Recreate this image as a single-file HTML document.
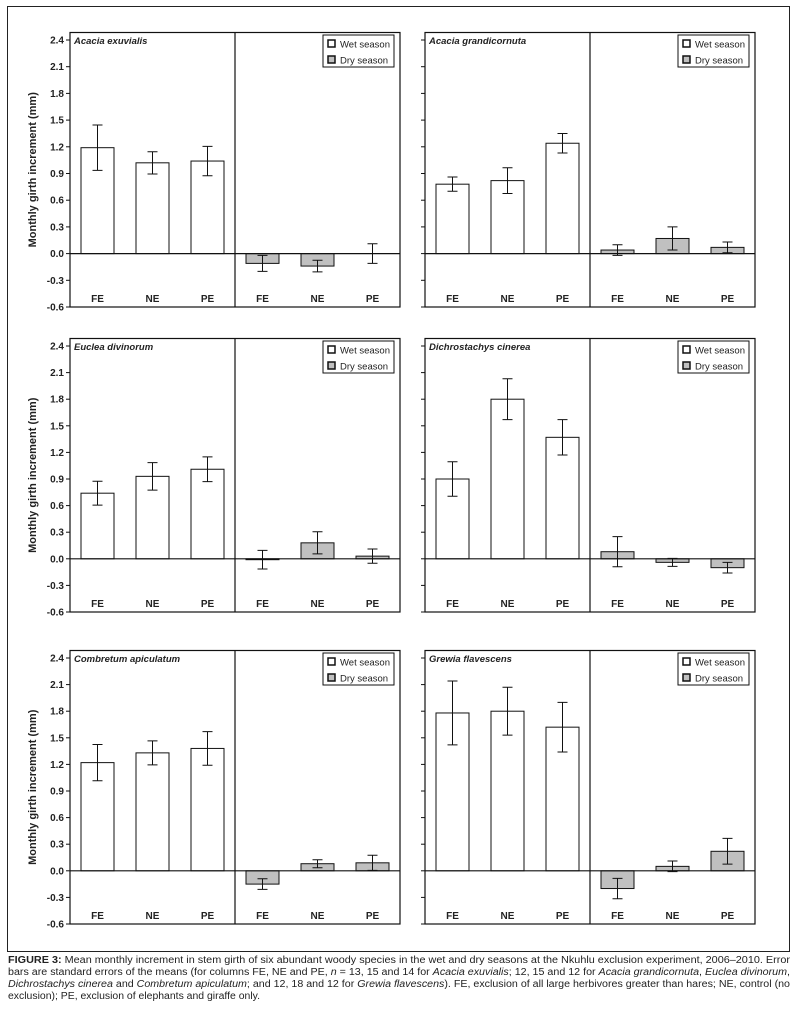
<!DOCTYPE html>
<html><head><meta charset="utf-8">
<style>
html,body{margin:0;padding:0;background:#fff;}
svg{display:block;font-family:"Liberation Sans",sans-serif;}
</style></head>
<body>
<svg id="fig" width="797" height="1010" viewBox="0 0 797 1010" xmlns="http://www.w3.org/2000/svg">
<rect x="7.5" y="6.5" width="782" height="945" fill="none" stroke="#222" stroke-width="1"/>
<g id="panels"></g>
<g font-size="10" fill="#222">
<text x="8" y="963" textLength="782" lengthAdjust="spacingAndGlyphs"><tspan font-weight="bold">FIGURE 3:</tspan> Mean monthly increment in stem girth of six abundant woody species in the wet and dry seasons at the Nkuhlu exclusion experiment, 2006–2010. Error</text>
<text x="8" y="975" textLength="782" lengthAdjust="spacingAndGlyphs">bars are standard errors of the means (for columns FE, NE and PE, <tspan font-style="italic">n</tspan> = 13, 15 and 14 for <tspan font-style="italic">Acacia exuvialis</tspan>; 12, 15 and 12 for <tspan font-style="italic">Acacia grandicornuta</tspan>, <tspan font-style="italic">Euclea divinorum</tspan>,</text>
<text x="8" y="987" textLength="782" lengthAdjust="spacingAndGlyphs"><tspan font-style="italic">Dichrostachys cinerea</tspan> and <tspan font-style="italic">Combretum apiculatum</tspan>; and 12, 18 and 12 for <tspan font-style="italic">Grewia flavescens</tspan>). FE, exclusion of all large herbivores greater than hares; NE, control (no</text>
<text x="8" y="999" textLength="252" lengthAdjust="spacingAndGlyphs">exclusion); PE, exclusion of elephants and giraffe only.</text>
</g>
</svg>
<script>
const species = ["Acacia exuvialis","Acacia grandicornuta","Euclea divinorum","Dichrostachys cinerea","Combretum apiculatum","Grewia flavescens"];
const categories = ["FE","NE","PE"];
const wetMeans = [[1.19,1.02,1.04],[0.78,0.82,1.24],[0.74,0.93,1.01],[0.90,1.80,1.37],[1.22,1.33,1.38],[1.78,1.80,1.62]];
const wetSE = [[0.255,0.125,0.165],[0.08,0.145,0.11],[0.135,0.155,0.14],[0.195,0.23,0.20],[0.205,0.135,0.19],[0.36,0.27,0.28]];
const dryMeans = [[-0.11,-0.14,0.0],[0.04,0.17,0.07],[-0.01,0.18,0.03],[0.08,-0.04,-0.10],[-0.15,0.08,0.09],[-0.20,0.05,0.22]];
const drySE = [[0.09,0.065,0.11],[0.06,0.13,0.06],[0.105,0.125,0.08],[0.17,0.045,0.06],[0.06,0.045,0.085],[0.115,0.06,0.145]];
const yTicks = [-0.6,-0.3,0.0,0.3,0.6,0.9,1.2,1.5,1.8,2.1,2.4];
const yMin=-0.6, yMax=2.4;

const NS="http://www.w3.org/2000/svg";
const root=document.getElementById('panels');
function mk(tag,attrs,parent){const e=document.createElementNS(NS,tag);for(const k in attrs)e.setAttribute(k,attrs[k]);(parent||root).appendChild(e);return e;}

const colX=[[70,400],[425,755]];
const rowY=[[40,307],[346,612],[658,924]];

species.forEach((sp,i)=>{
  const c=i%2, r=Math.floor(i/2);
  const x0=colX[c][0], x1=colX[c][1], xm=(x0+x1)/2;
  const yb=rowY[r][1], yt=rowY[r][0];
  const y=v=>yb-(v-yMin)/(yMax-yMin)*(yb-yt);
  const g=mk('g',{});
  
  
  const boxTop=yt-7.5;
  const band=(xm-x0)/3, bw=band*0.6;
  [[wetMeans,wetSE,'#fff',x0,'wet'],[dryMeans,drySE,'#c0c0c0',xm,'dry']].forEach(([M,S,fill,start,season])=>{
    categories.forEach((cat,j)=>{
      const m=M[i][j], s=S[i][j];
      const cx=start+band*(j+0.5);
      const bar=mk('rect',{x:cx-bw/2,y:Math.min(y(m),y(0)),width:bw,height:Math.abs(y(m)-y(0)),fill:fill,stroke:'#111','stroke-width':1},g);
      
      
      const eb=mk('path',{d:`M${cx},${y(m+s)}V${y(m-s)}M${cx-5},${y(m+s)}H${cx+5}M${cx-5},${y(m-s)}H${cx+5}`,stroke:'#111','stroke-width':1,fill:'none'},g);
      
      
      const t=mk('text',{x:cx,y:yb-5,'text-anchor':'middle','font-size':10,'font-weight':'bold',fill:'#222'},g);
      t.textContent=cat;
      
      
    });
  });
  const fr=mk('rect',{x:x0,y:boxTop,width:x1-x0,height:yb-boxTop,fill:'none',stroke:'#111','stroke-width':1.2},g);
  
  
  const dv=mk('line',{x1:xm,x2:xm,y1:boxTop,y2:yb,stroke:'#111','stroke-width':1.2},g);
  
  
  const zl=mk('line',{x1:x0,x2:x1,y1:y(0),y2:y(0),stroke:'#111','stroke-width':1.2},g);
  
  
  yTicks.forEach(v=>{
    const tk=mk('line',{x1:x0-4,x2:x0,y1:y(v),y2:y(v),stroke:'#111','stroke-width':1},g);
    
    
    if(c===0){
      const tl=mk('text',{x:x0-6,y:y(v)+3.5,'text-anchor':'end','font-size':10,'font-weight':'bold',fill:'#222'},g);
      tl.textContent=v.toFixed(1);
      
      
    }
  });
  if(c===0){
    const yl=mk('text',{x:0,y:0,transform:`translate(36,${(boxTop+yb)/2}) rotate(-90)`,'text-anchor':'middle','font-size':11,'font-weight':'bold',fill:'#222'},g);
    yl.textContent='Monthly girth increment (mm)';
    
    
  }
  const st=mk('text',{x:x0+4,y:yt+4,'font-size':9.5,'font-weight':'bold','font-style':'italic',fill:'#222'},g);
  st.textContent=sp;
  
  
  const lg=mk('g',{},g);
  
  
  const lx=x1-77, ly=boxTop+2.5;
  mk('rect',{x:lx,y:ly,width:71,height:32,fill:'#fff',stroke:'#111','stroke-width':1},lg);
  [['Wet season','#fff',0],['Dry season','#c0c0c0',16]].forEach(([lab,f,dy])=>{
    const e=mk('g',{},lg);
    
    
    mk('rect',{x:lx+5,y:ly+5+dy,width:7,height:7,fill:f,stroke:'#111','stroke-width':1.5},e);
    const t=mk('text',{x:lx+17,y:ly+12.5+dy,'font-size':9.5,fill:'#222'},e);
    t.textContent=lab;
  });
});
</script>
</body></html>
